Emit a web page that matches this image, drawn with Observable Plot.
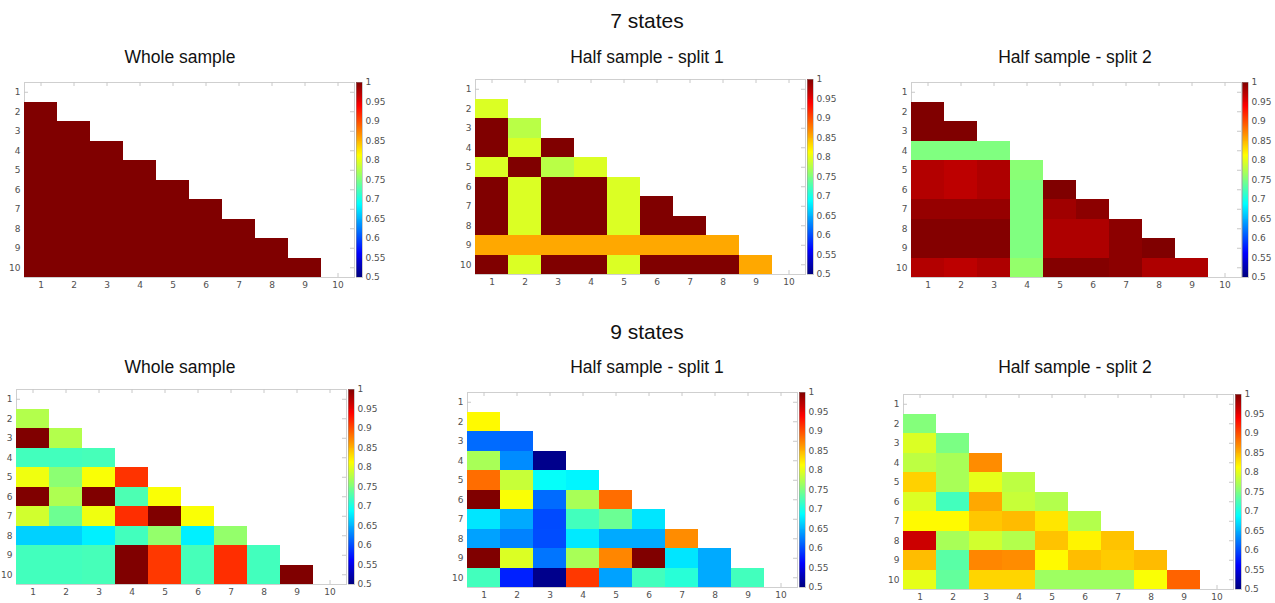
<!DOCTYPE html>
<html>
<head>
<meta charset="utf-8">
<script src="https://cdn.jsdelivr.net/npm/d3@7"></script>
<script src="https://cdn.jsdelivr.net/npm/@observablehq/plot@0.6"></script>
<style>
  html, body { margin: 0; padding: 0; background: #fff; }
  #root { position: relative; width: 1275px; height: 603px; overflow: hidden; background: #fff; }
  .ttl { position: absolute; font-family: "Liberation Sans", Arial, sans-serif; color: #111; white-space: nowrap; transform: translateX(-50%); line-height: 1; }
  svg.pl { position: absolute; overflow: visible; }
</style>
</head>
<body>
<div id="root"></div>
<script>
// ---------- data ----------
const stateIdx = [1, 2, 3, 4, 5, 6, 7, 8, 9, 10];
const cbTicks = [0.5, 0.55, 0.6, 0.65, 0.7, 0.75, 0.8, 0.85, 0.9, 0.95, 1];
const colorDomain = [0.5, 1];

const groupTitles = ["7 states", "9 states"];
const panelTitles = ["Whole sample", "Half sample - split 1", "Half sample - split 2"];

// lower-triangular rows 2..10 (row r holds columns 1..r-1)
const s7Whole = [
  [1],
  [1, 1],
  [1, 1, 1],
  [1, 1, 1, 1],
  [1, 1, 1, 1, 1],
  [1, 1, 1, 1, 1, 1],
  [1, 1, 1, 1, 1, 1, 1],
  [1, 1, 1, 1, 1, 1, 1, 1],
  [1, 1, 1, 1, 1, 1, 1, 1, 1]
];
const s7Split1 = [
  [0.795],
  [1, 0.778],
  [1, 0.795, 1],
  [0.795, 1, 0.778, 0.795],
  [1, 0.795, 1, 1, 0.795],
  [1, 0.795, 1, 1, 0.795, 1],
  [1, 0.795, 1, 1, 0.795, 1, 1],
  [0.855, 0.855, 0.855, 0.855, 0.855, 0.855, 0.855, 0.855],
  [1, 0.795, 1, 1, 0.795, 1, 1, 1, 0.855]
];
const s7Split2 = [
  [1],
  [1, 1],
  [0.75, 0.75, 0.75],
  [0.975, 0.97, 0.977, 0.755],
  [0.975, 0.97, 0.977, 0.75, 1],
  [0.989, 0.989, 0.989, 0.75, 0.984, 0.994],
  [0.998, 0.998, 0.998, 0.75, 0.977, 0.977, 0.994],
  [0.998, 0.998, 0.998, 0.75, 0.977, 0.977, 0.994, 1],
  [0.975, 0.97, 0.977, 0.76, 0.998, 0.998, 0.994, 0.977, 0.977]
];
const s9Whole = [
  [0.775],
  [1, 0.775],
  [0.72, 0.72, 0.722],
  [0.805, 0.756, 0.81, 0.9125],
  [1, 0.773, 1, 0.725, 0.81],
  [0.79, 0.741, 0.805, 0.915, 1, 0.81],
  [0.665, 0.665, 0.68, 0.72, 0.76, 0.68, 0.76],
  [0.72, 0.72, 0.722, 1, 0.91, 0.722, 0.915, 0.72],
  [0.72, 0.72, 0.722, 1, 0.91, 0.722, 0.915, 0.72, 1]
];
const s9Split1 = [
  [0.815],
  [0.615, 0.613],
  [0.77, 0.631, 0.506],
  [0.884, 0.785, 0.69, 0.683],
  [1, 0.81, 0.615, 0.77, 0.884],
  [0.675, 0.646, 0.599, 0.72, 0.74, 0.675],
  [0.642, 0.626, 0.6, 0.677, 0.646, 0.646, 0.869],
  [1, 0.795, 0.62, 0.77, 0.872, 1, 0.675, 0.646],
  [0.72, 0.578, 0.506, 0.91, 0.642, 0.72, 0.707, 0.646, 0.72]
];
const s9Split2 = [
  [0.752],
  [0.795, 0.748],
  [0.78, 0.77, 0.869],
  [0.835, 0.77, 0.8, 0.78],
  [0.795, 0.72, 0.855, 0.785, 0.775],
  [0.815, 0.815, 0.84, 0.846, 0.825, 0.775],
  [0.9625, 0.77, 0.79, 0.775, 0.842, 0.818, 0.842],
  [0.845, 0.731, 0.872, 0.869, 0.815, 0.845, 0.838, 0.846],
  [0.8, 0.736, 0.833, 0.833, 0.765, 0.765, 0.765, 0.81, 0.889]
];

// ---------- layout ----------
const W = 330, H = 195, CBW = 6;
const panels = [
  {rows: s7Whole,  left: 24,  top: 82,  cb: 356,  title: panelTitles[0], tx: 180,  ty: 49},
  {rows: s7Split1, left: 475, top: 79,  cb: 807,  title: panelTitles[1], tx: 647,  ty: 49},
  {rows: s7Split2, left: 911, top: 82,  cb: 1242, title: panelTitles[2], tx: 1075, ty: 49},
  {rows: s9Whole,  left: 16,  top: 389, cb: 348,  title: panelTitles[0], tx: 180,  ty: 359},
  {rows: s9Split1, left: 467, top: 392, cb: 799,  title: panelTitles[1], tx: 647,  ty: 359},
  {rows: s9Split2, left: 903, top: 394, cb: 1235, title: panelTitles[2], tx: 1075, ty: 359}
];
const groups = [
  {title: groupTitles[0], x: 647, y: 10},
  {title: groupTitles[1], x: 647, y: 321}
];

// MATLAB-style jet colormap
const jet = t => {
  const c = v => Math.round(255 * Math.max(0, Math.min(1, v)));
  return `rgb(${c(1.5 - Math.abs(4 * t - 3))},${c(1.5 - Math.abs(4 * t - 2))},${c(1.5 - Math.abs(4 * t - 1))})`;
};
const colorOpt = {type: "linear", domain: colorDomain, interpolate: jet};

const root = document.getElementById("root");
const axisStyle = {fontFamily: "'DejaVu Sans', Verdana, sans-serif", fontSize: "9px", color: "#505050", background: "transparent", overflow: "visible"};

function addTitle(text, x, y, size) {
  const d = document.createElement("div");
  d.className = "ttl";
  d.style.left = x + "px";
  d.style.top = y + "px";
  d.style.fontSize = size + "px";
  d.textContent = text;
  root.appendChild(d);
}

groups.forEach(g => addTitle(g.title, g.x, g.y, 21));

panels.forEach(p => {
  const cells = [];
  p.rows.forEach((vals, i) => vals.forEach((v, j) => cells.push({row: i + 2, col: j + 1, v})));
  const ml = 24, mr = 2, mt = 6, mb = 16;
  const chart = Plot.plot({
    width: W + ml + mr, height: H + mt + mb,
    marginLeft: ml, marginRight: mr, marginTop: mt, marginBottom: mb,
    style: axisStyle,
    x: {domain: [0.5, 10.5], axis: null},
    y: {domain: [0.5, 10.5], reverse: true, axis: null},
    color: colorOpt,
    marks: [
      Plot.frame({stroke: "#cfcfcf"}),
      Plot.ruleX(stateIdx, {x: d => d, stroke: "#c8c8c8", insetBottom: H - 4}),
      Plot.ruleX(stateIdx, {x: d => d, stroke: "#c8c8c8", insetTop: H - 4}),
      Plot.ruleY(stateIdx, {y: d => d, stroke: "#c8c8c8", insetRight: W - 4}),
      Plot.ruleY(stateIdx, {y: d => d, stroke: "#c8c8c8", insetLeft: W - 4}),
      Plot.rect(cells, {x1: d => d.col - 0.5, x2: d => d.col + 0.5, y1: d => d.row - 0.5, y2: d => d.row + 0.5, fill: "v", shapeRendering: "crispEdges"}),
      Plot.axisX({ticks: stateIdx, tickSize: 0, tickPadding: 4, tickFormat: d => String(d)}),
      Plot.axisY({ticks: stateIdx, tickSize: 0, tickPadding: 4, tickFormat: d => String(d)})
    ]
  });
  chart.classList.add("pl");
  chart.style.left = (p.left - ml) + "px";
  chart.style.top = (p.top - mt) + "px";
  root.appendChild(chart);

  // colorbar
  const step = 0.0025;
  const stops = d3.range(colorDomain[0], colorDomain[1], step);
  const cmt = 8, cmb = 8, cmr = 34;
  const cb = Plot.plot({
    width: CBW + cmr, height: H + cmt + cmb,
    marginLeft: 0, marginRight: cmr, marginTop: cmt, marginBottom: cmb,
    style: axisStyle,
    x: {domain: [0, 1], axis: null},
    y: {domain: colorDomain, axis: null},
    color: colorOpt,
    marks: [
      Plot.rect(stops, {x1: 0, x2: 1, y1: d => d, y2: d => Math.min(colorDomain[1], d + step * 1.5), fill: d => d + step / 2, shapeRendering: "crispEdges"}),
      Plot.frame({stroke: "#9a9a9a", strokeOpacity: 0.5}),
      Plot.axisY({ticks: cbTicks, anchor: "right", tickSize: 0, tickPadding: 3, tickFormat: d => String(d)})
    ]
  });
  cb.classList.add("pl");
  cb.style.left = p.cb + "px";
  cb.style.top = (p.top - cmt) + "px";
  root.appendChild(cb);

  addTitle(p.title, p.tx, p.ty, 17.5);
});
</script>
</body>
</html>
